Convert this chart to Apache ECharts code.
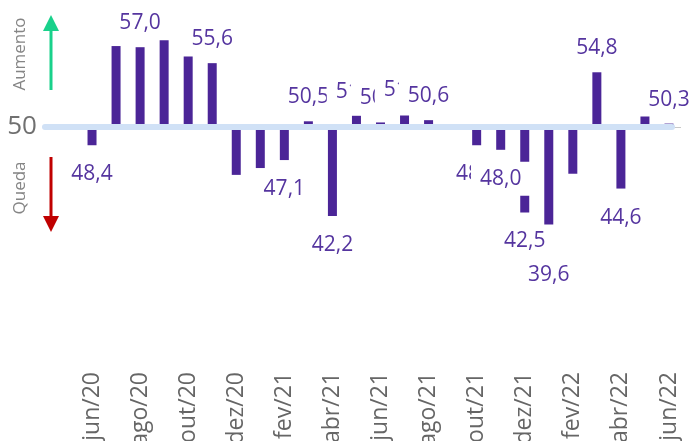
<!DOCTYPE html>
<html>
<head>
<meta charset="utf-8">
<script src="https://cdn.jsdelivr.net/npm/echarts@6/dist/echarts.min.js"></script>
<style>
    html, body { margin: 0; padding: 0; background: #fff; }
    #chart { width: 692px; height: 441px; }
</style>
</head>
<body>
<div id="chart"></div>
<script>
// meses e valores do índice (linha de base 50)
var meses = ['jun/20', 'jul/20', 'ago/20', 'set/20', 'out/20', 'nov/20', 'dez/20', 'jan/21', 'fev/21', 'mar/21',
    'abr/21', 'mai/21', 'jun/21', 'jul/21', 'ago/21', 'set/21', 'out/21', 'nov/21', 'dez/21', 'jan/22',
    'fev/22', 'mar/22', 'abr/22', 'mai/22', 'jun/22'];
var valores = [48.4, 57.1, 57.0, 57.7, 56.2, 55.6, 45.8, 46.4, 47.1, 50.5,
    42.2, 51.0, 50.4, 51.1, 50.6, 50.0, 48.4, 48.0, 42.5, 39.6,
    45.9, 54.8, 44.6, 51.0, 50.3];
// meses que mostram rótulo
var comRotulo = ['jun/20', 'ago/20', 'nov/20', 'fev/21', 'mar/21', 'abr/21', 'mai/21', 'jun/21', 'jul/21', 'ago/21',
    'out/21', 'nov/21', 'dez/21', 'jan/22', 'mar/22', 'abr/22', 'jun/22'];
var linhaBase = 50;

var myChart = echarts.init(document.getElementById('chart'));

var dados = valores.map(function (v, i) {
    var sobe = v >= linhaBase;
    return {
        value: Math.round((v - linhaBase) * 10) / 10,
        label: {
            show: comRotulo.indexOf(meses[i]) >= 0,
            position: sobe ? 'top' : 'bottom',
            distance: sobe ? 7 : 12
        }
    };
});

var option = {
    animation: false,
    grid: { left: 80, right: 11, top: 13, bottom: 86, outerBoundsMode: 'none' },
    xAxis: {
        type: 'category',
        data: meses,
        axisLine: { show: false },
        axisTick: { show: false },
        axisLabel: {
            rotate: 90,
            interval: 1,
            margin: 17,
            fontSize: 23,
            color: '#666',
            fontFamily: 'Open Sans'
        }
    },
    yAxis: {
        type: 'value',
        min: -20,
        max: 10,
        show: false
    },
    series: [{
        type: 'bar',
        data: dados,
        barWidth: 9,
        itemStyle: { color: '#4b2597' },
        label: {
            fontSize: 21,
            fontFamily: 'Open Sans',
            color: '#55359f',
            backgroundColor: '#fff',
            padding: [3, 9],
            lineHeight: 28,
            formatter: function (p) {
                return valores[p.dataIndex].toFixed(1).replace('.', ',');
            }
        },
        markLine: {
            silent: true,
            symbol: 'none',
            label: { show: false },
            lineStyle: { color: '#c8c8c8', width: 1, type: 'solid' },
            data: [{ yAxis: 0 }]
        }
    }]
};
myChart.setOption(option);

// linha do 50, setas e textos laterais
var y0 = myChart.convertToPixel({ yAxisIndex: 0 }, 0);
myChart.setOption({
    graphic: [
        { type: 'line', z: 20, shape: { x1: 45, y1: y0, x2: 672, y2: y0 },
            style: { stroke: '#d0e1f6', lineWidth: 6, lineCap: 'round' } },
        { type: 'text', z: 20, x: 22, y: y0,
            style: { text: '50', fontSize: 26, fontFamily: 'Open Sans', fill: '#707070', align: 'center', verticalAlign: 'middle' } },
        { type: 'line', z: 20, shape: { x1: 51, y1: 90, x2: 51, y2: 29 },
            style: { stroke: '#19d18b', lineWidth: 3 } },
        { type: 'polygon', z: 20, shape: { points: [[43, 31], [59, 31], [51, 15]] },
            style: { fill: '#19d18b' } },
        { type: 'line', z: 20, shape: { x1: 51, y1: 157, x2: 51, y2: 218 },
            style: { stroke: '#c00000', lineWidth: 3 } },
        { type: 'polygon', z: 20, shape: { points: [[43, 216], [59, 216], [51, 232]] },
            style: { fill: '#c00000' } },
        { type: 'text', z: 20, x: 20, y: 54, rotation: Math.PI / 2,
            style: { text: 'Aumento', fontSize: 17, fontFamily: 'Open Sans', fill: '#858585', align: 'center', verticalAlign: 'middle' } },
        { type: 'text', z: 20, x: 20, y: 188, rotation: Math.PI / 2,
            style: { text: 'Queda', fontSize: 17, fontFamily: 'Open Sans', fill: '#858585', align: 'center', verticalAlign: 'middle' } }
    ]
});
</script>
</body>
</html>
